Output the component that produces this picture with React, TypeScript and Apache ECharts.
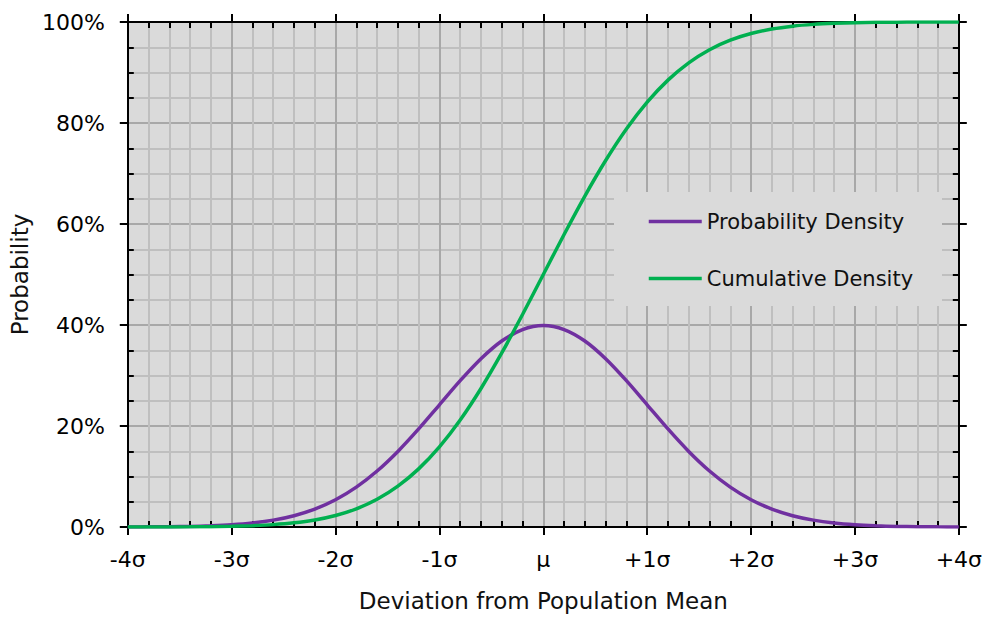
import React, { useEffect, useRef } from "react";
import * as echarts from "echarts";

const xValues = [
  -4.0, -3.8, -3.6, -3.4, -3.2, -3.0, -2.8, -2.6, -2.4, -2.2, -2.0, -1.8, -1.6, -1.4, -1.2, -1.0, -0.8, -0.6, -0.4, -0.2,
  0.0, 0.2, 0.4, 0.6, 0.8, 1.0, 1.2, 1.4, 1.6, 1.8, 2.0, 2.2, 2.4, 2.6, 2.8, 3.0, 3.2, 3.4, 3.6, 3.8, 4.0,
];
const pdfValues = [
  0.0001, 0.0003, 0.0006, 0.0012, 0.0024, 0.0044, 0.0079, 0.0136, 0.0224, 0.0355, 0.054, 0.079, 0.1109, 0.1497, 0.1942,
  0.242, 0.2897, 0.3332, 0.3683, 0.391, 0.3989, 0.391, 0.3683, 0.3332, 0.2897, 0.242, 0.1942, 0.1497, 0.1109, 0.079,
  0.054, 0.0355, 0.0224, 0.0136, 0.0079, 0.0044, 0.0024, 0.0012, 0.0006, 0.0003, 0.0001,
];
const cdfValues = [
  0.0, 0.0001, 0.0002, 0.0003, 0.0007, 0.0013, 0.0026, 0.0047, 0.0082, 0.0139, 0.0228, 0.0359, 0.0548, 0.0808, 0.1151,
  0.1587, 0.2119, 0.2743, 0.3446, 0.4207, 0.5, 0.5793, 0.6554, 0.7257, 0.7881, 0.8413, 0.8849, 0.9192, 0.9452, 0.9641,
  0.9772, 0.9861, 0.9918, 0.9953, 0.9974, 0.9987, 0.9993, 0.9997, 0.9998, 0.9999, 1.0,
];
const xTickLabels = ["-4σ", "-3σ", "-2σ", "-1σ", "μ", "+1σ", "+2σ", "+3σ", "+4σ"];
const yTickLabels = ["0%", "20%", "40%", "60%", "80%", "100%"];
const seriesNames = ["Probability Density", "Cumulative Density"];

const FONT = "DejaVu Sans";

export default function App() {
  const ref = useRef<HTMLDivElement>(null);
  useEffect(() => {
    if (!ref.current) return;
    const chart = echarts.init(ref.current, undefined, { renderer: "svg" });
    const tickLine = { color: "#000", width: 2 };
    const baseAxis = (extra: any) => ({
      type: "value",
      axisLine: { show: true, onZero: false, lineStyle: { color: "#000", width: 2 } },
      axisTick: { show: true, inside: false, length: 8, lineStyle: tickLine },
      minorTick: { show: true, length: -6, lineStyle: tickLine },
      ...extra,
    });
    const pdfData = xValues.map((x, i) => [x, pdfValues[i]]);
    const cdfData = xValues.map((x, i) => [x, cdfValues[i]]);
    chart.setOption({
      animation: false,
      textStyle: { fontFamily: FONT },
      grid: {
        left: 123,
        top: 22,
        width: 838,
        height: 507,
        show: true,
        backgroundColor: "#dadada",
        borderWidth: 0,
      },
      graphic: [
        {
          type: "rect",
          z: 1,
          shape: { x: 614, y: 192, width: 328, height: 114 },
          style: { fill: "#dadada" },
        },
      ],
      legend: {
        data: seriesNames,
        orient: "vertical",
        left: 614,
        top: 192,
        padding: [19, 34, 18, 33],
        itemGap: 36,
        itemWidth: 53,
        itemHeight: 20,
        itemStyle: { opacity: 0 },
        lineStyle: { width: 3.5 },
        textStyle: { fontFamily: FONT, fontSize: 21, color: "#111" },
        z: 4,
      },
      xAxis: [
        baseAxis({
          position: "bottom",
          min: -4,
          max: 4,
          interval: 1,
          minorTick: { show: true, splitNumber: 5, length: -6, lineStyle: tickLine },
          axisLabel: {
            margin: 21,
            fontSize: 22,
            color: "#000",
            fontFamily: FONT,
            formatter: (v: number) => xTickLabels[Math.round(v) + 4],
          },
          splitLine: { show: true, lineStyle: { color: "#a8a8a8", width: 2 } },
          minorSplitLine: { show: true, lineStyle: { color: "#bfbfbf", width: 2 } },
          name: "Deviation from Population Mean",
          nameLocation: "middle",
          nameGap: 62,
          nameTextStyle: { fontSize: 23, color: "#111", fontFamily: FONT },
        }),
        baseAxis({
          position: "top",
          min: -4,
          max: 4,
          interval: 1,
          minorTick: { show: true, splitNumber: 5, length: -6, lineStyle: tickLine },
          axisLabel: { show: false },
          splitLine: { show: false },
        }),
      ],
      yAxis: [
        baseAxis({
          position: "left",
          min: 0,
          max: 1,
          interval: 0.2,
          minorTick: { show: true, splitNumber: 4, length: -6, lineStyle: tickLine },
          axisLabel: {
            margin: 23,
            fontSize: 22,
            color: "#000",
            fontFamily: FONT,
            formatter: (v: number) => yTickLabels[Math.round(v * 5)],
          },
          splitLine: { show: true, lineStyle: { color: "#a8a8a8", width: 2 } },
          minorSplitLine: { show: true, lineStyle: { color: "#bfbfbf", width: 2 } },
          name: "Probability",
          nameLocation: "middle",
          nameGap: 90,
          nameTextStyle: { fontSize: 23, color: "#111", fontFamily: FONT },
        }),
        baseAxis({
          position: "right",
          min: 0,
          max: 1,
          interval: 0.2,
          minorTick: { show: true, splitNumber: 4, length: -6, lineStyle: tickLine },
          axisLabel: { show: false },
          splitLine: { show: false },
        }),
      ],
      series: [
        {
          name: seriesNames[0],
          type: "line",
          data: pdfData,
          xAxisIndex: 0,
          yAxisIndex: 0,
          symbol: "none",
          smooth: 0.3,
          lineStyle: { color: "#7030a0", width: 3.5 },
          itemStyle: { color: "#7030a0" },
          z: 2,
        },
        {
          name: seriesNames[1],
          type: "line",
          data: cdfData,
          xAxisIndex: 0,
          yAxisIndex: 0,
          symbol: "none",
          smooth: 0.3,
          lineStyle: { color: "#00b050", width: 3.5 },
          itemStyle: { color: "#00b050" },
          z: 3,
        },
      ],
    });
    return () => chart.dispose();
  }, []);
  return (
    <div
      ref={ref}
      style={{ position: "absolute", left: 0, top: 0, width: 985, height: 617 }}
    />
  );
}
